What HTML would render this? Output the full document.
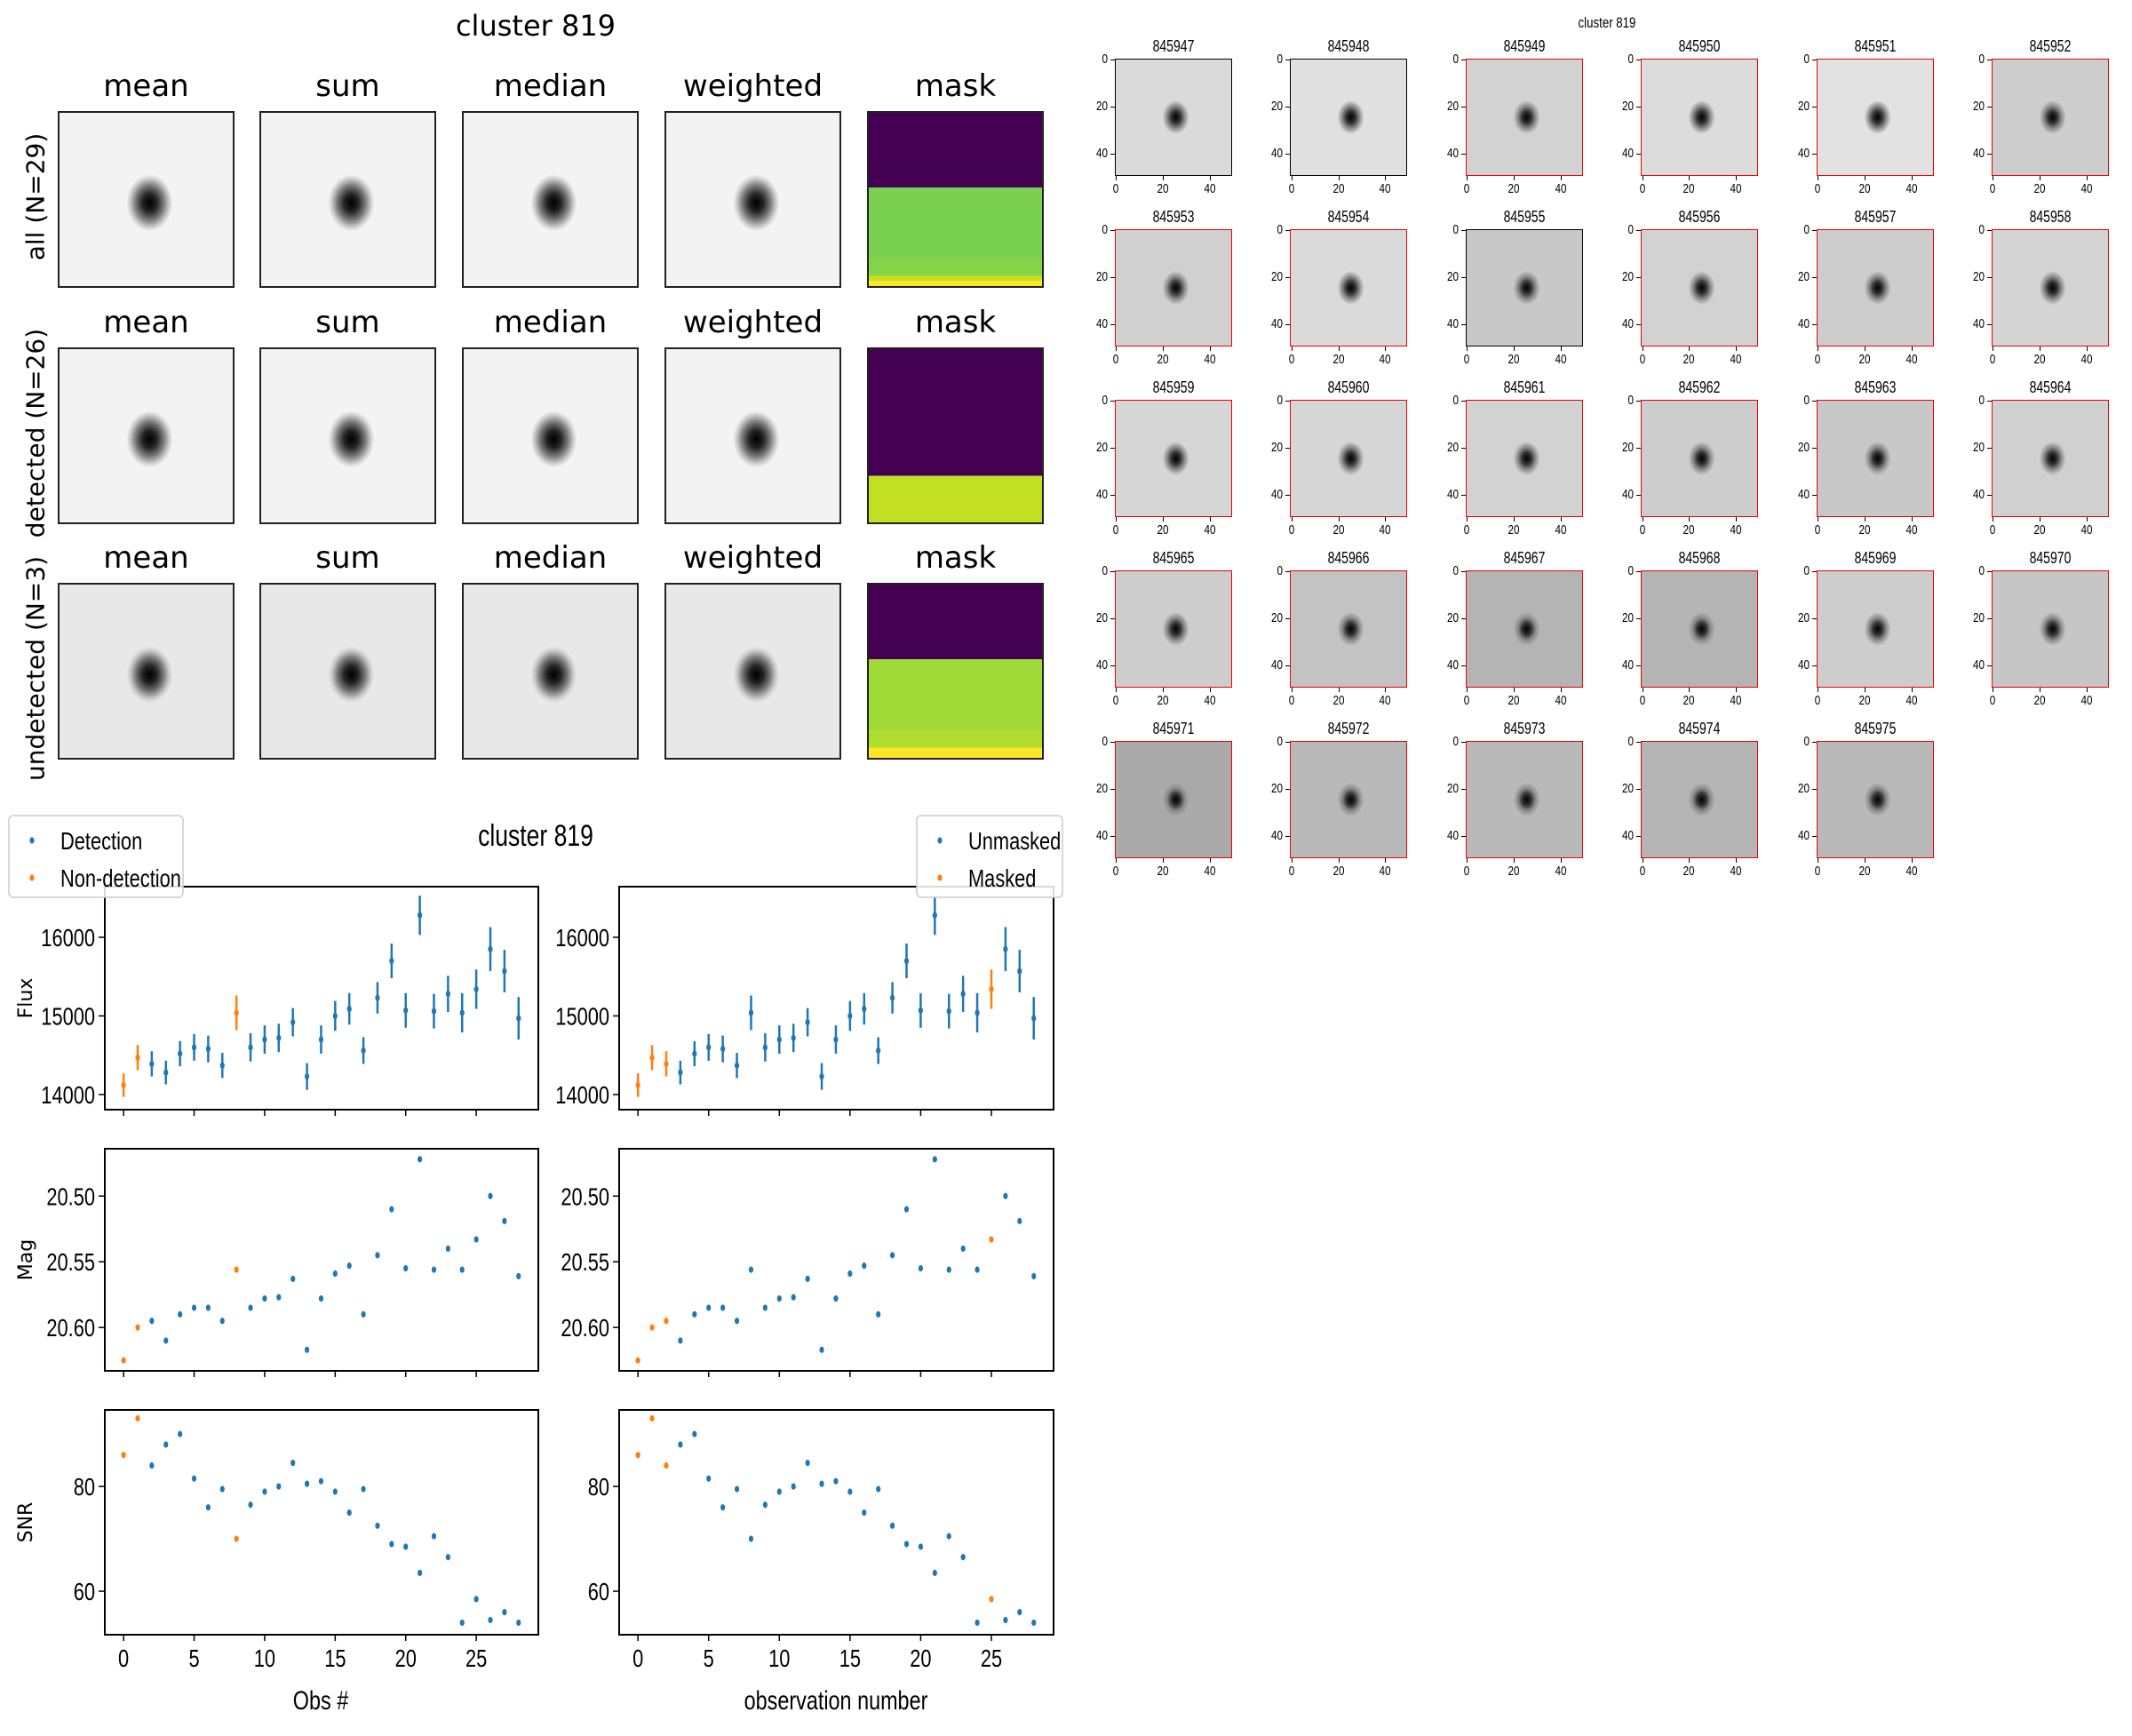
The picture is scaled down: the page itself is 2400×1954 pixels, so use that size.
<!DOCTYPE html>
<html><head><meta charset="utf-8">
<style>
body{margin:0;background:#fff;}
#root{position:relative;width:2400px;height:1954px;overflow:hidden;background:#fff;font-family:"DejaVu Sans","Liberation Sans",sans-serif;}
.abs{position:absolute;}
.t{position:absolute;white-space:nowrap;color:#000;}
.ptitle{font-size:34px;text-align:center;width:200px;}
.img{position:absolute;border:2px solid #222;box-sizing:border-box;}
.narrow{font-family:"Liberation Sans",sans-serif;transform:scaleX(0.78);}
</style></head><body>
<div id="root">
<div class="t" style="left:503px;top:10px;width:200px;text-align:center;font-size:32px;">cluster 819</div>
<div id="stacks"></div>
<div class="t narrow" style="left:1709px;top:16px;width:200px;text-align:center;font-size:17px;">cluster 819</div>
<div id="thumbs"></div>
<svg id="lc" class="abs" style="left:0;top:0" width="2400" height="1954"></svg>
</div>
<script>
// ---------- light curve data ----------
const obs = [0,1,2,3,4,5,6,7,8,9,10,11,12,13,14,15,16,17,18,19,20,21,22,23,24,25,26,27,28];
const flux = [14120,14470,14390,14280,14520,14600,14580,14370,15040,14600,14700,14720,14920,14230,14700,15000,15090,14560,15230,15700,15070,16280,15060,15280,15040,15340,15850,15570,14970];
const fluxErr = [150,160,160,150,160,170,170,160,220,180,180,180,180,170,180,190,200,170,200,220,220,250,220,230,250,250,280,270,270];
const mag = [20.625,20.600,20.595,20.610,20.590,20.585,20.585,20.595,20.556,20.585,20.578,20.577,20.563,20.617,20.578,20.559,20.553,20.590,20.545,20.510,20.555,20.472,20.556,20.540,20.556,20.533,20.500,20.519,20.561];
const snr = [86,93,84,88,90,81.5,76,79.5,70,76.5,79,80,84.5,80.5,81,79,75,79.5,72.5,69,68.5,63.5,70.5,66.5,54,58.5,54.5,56,54];
const nonDetected = [0,1,8];
const maskedObs = [0,1,2,25];
const xTicks = [0,5,10,15,20,25];
const fluxTicks = [14000,15000,16000];
const magTicks = [20.50,20.55,20.60];
const snrTicks = [60,80];

const NS='http://www.w3.org/2000/svg';
const svg=document.getElementById('lc');
function mk(tag,attrs,parent){const e=document.createElementNS(NS,tag);for(const k in attrs)e.setAttribute(k,attrs[k]);(parent||svg).appendChild(e);return e;}
function ntext(s,x,y,size,anchor,parent){const t=mk('text',{x:0,y:0,transform:`translate(${x},${y}) scale(0.78,1)`,'font-size':size,'text-anchor':anchor,'font-family':'Liberation Sans, sans-serif'},parent);t.textContent=s;return t;}
const BLUE='#1f77b4',ORANGE='#ff7f0e';
function lin(d0,d1,r0,r1){return v=>r0+(v-d0)*(r1-r0)/(d1-d0);}
const cols=[{x0:118,x1:606,orange:nonDetected,name:'detection'},{x0:697,x1:1186,orange:maskedObs,name:'mask'}];
const rows=[{y0:998,y1:1249,d0:16644,d1:13808,vals:flux,err:fluxErr,ticks:fluxTicks,fmt:v=>String(v),lab:'Flux',name:'flux'},
 {y0:1293,y1:1543,d0:20.464,d1:20.633,vals:mag,err:null,ticks:magTicks,fmt:v=>v.toFixed(2),lab:'Mag',name:'mag'},
 {y0:1587,y1:1840,d0:94.6,d1:51.7,vals:snr,err:null,ticks:snrTicks,fmt:v=>String(v),lab:'SNR',name:'snr'}];
cols.forEach((c,ci)=>{
 const x=lin(-1.33,29.4,c.x0,c.x1);
 rows.forEach((r,ri)=>{
  const y=lin(r.d0,r.d1,r.y0,r.y1);
  const g=mk('g',{});
  
  
  mk('rect',{x:c.x0,y:r.y0,width:c.x1-c.x0,height:r.y1-r.y0,fill:'none',stroke:'#000','stroke-width':2},g);
  xTicks.forEach(t=>{
   mk('line',{x1:x(t),x2:x(t),y1:r.y1,y2:r.y1+7,stroke:'#000','stroke-width':1.5},g);
   if(ri===2){ntext(String(t),x(t),r.y1+36,28,'middle',g);}
  });
  r.ticks.forEach(t=>{
   mk('line',{x1:c.x0-7,x2:c.x0,y1:y(t),y2:y(t),stroke:'#000','stroke-width':1.5},g);
   ntext(r.fmt(t),c.x0-11,y(t)+10,28,'end',g);
  });
  obs.forEach((o,i)=>{
   const col=c.orange.includes(o)?ORANGE:BLUE;
   if(r.err){const e=mk('line',{x1:x(o),x2:x(o),y1:y(r.vals[i]-r.err[i]),y2:y(r.vals[i]+r.err[i]),stroke:col,'stroke-width':2.5},g);
    }
   const p=mk('ellipse',{cx:x(o),cy:y(r.vals[i]),rx:2.6,ry:3.6,fill:col},g);
   
   
  });
  if(ci===0){const yl=mk('text',{x:0,y:0,transform:`translate(36,${(r.y0+r.y1)/2}) rotate(-90)`,'text-anchor':'middle','font-size':22},g);yl.textContent=r.lab;}
 });
});
function txt(s,x,y,size,anchor,name){const t=ntext(s,x,y,size,anchor);return t;}
txt('cluster 819',603,952,34,'middle','lightcurve-title');
txt('Obs #',361,1924,30,'middle','x-axis-title-left');
txt('observation number',941,1924,30,'middle','x-axis-title-right');
function legend(x,y,w,items,name){const g=mk('g',{});
 mk('rect',{x:x,y:y,width:w,height:92,rx:5,fill:'#fff','fill-opacity':0.85,stroke:'#ccc','stroke-width':1.5},g);
 items.forEach((it,i)=>{mk('ellipse',{cx:x+26,cy:y+28+i*42,rx:2.6,ry:3.6,fill:it[1]},g);
  ntext(it[0],x+58,y+38+i*42,28,'start',g);});}
legend(10,918,196,[['Detection',BLUE],['Non-detection',ORANGE]],'legend-detection');
legend(1032,918,164,[['Unmasked',BLUE],['Masked',ORANGE]],'legend-mask');

// ---------- stacked images ----------
const stackRows=['all (N=29)','detected (N=26)','undetected (N=3)'];
const stackCols=['mean','sum','median','weighted','mask'];
const stackRowNames=['all','detected','undetected'];
const colX=[65,292,520,748,976];const rowY=[125,391,656];const W=199,H=199;
const st=document.getElementById('stacks');
const masks=[
 'linear-gradient(#440154 0 43%,#7ad151 43% 84%,#86d549 84% 94%,#c8e020 94% 97%,#fde725 97%)',
 'linear-gradient(#440154 0 73%,#c2df23 73%)',
 'linear-gradient(#440154 0 43%,#a0da39 43% 84%,#b0dd2f 84% 94%,#fde725 94%)'];
stackRows.forEach((rl,ri)=>{
 const l=document.createElement('div');l.className='t';
 
 
 l.style.cssText=`left:${40-200}px;top:${rowY[ri]+H/2-20}px;width:400px;text-align:center;font-size:28px;transform:rotate(-90deg);`;
 l.textContent=rl;st.appendChild(l);
 stackCols.forEach((cl,ci)=>{
  const t=document.createElement('div');t.className='t ptitle';
  
  
  t.style.left=(colX[ci]+W/2-100)+'px';t.style.top=(rowY[ri]-48)+'px';t.textContent=cl;st.appendChild(t);
  const d=document.createElement('div');d.className='img';
  
  
  d.style.cssText+=`left:${colX[ci]}px;top:${rowY[ri]}px;width:${W}px;height:${H}px;`;
  const bg=ri===2?'#e8e8e8':'#f3f3f3';
  d.style.background=ci===4?masks[ri]:`radial-gradient(ellipse 26px 32px at 52% 52%,#000 0%,#222 30%,#777 60%,#ccc 85%,${bg} 100%),${bg}`;
  st.appendChild(d);
 });
});

// ---------- cutout thumbnails ----------
const ids=[845947,845948,845949,845950,845951,845952,845953,845954,845955,845956,845957,845958,845959,845960,845961,845962,845963,845964,845965,845966,845967,845968,845969,845970,845971,845972,845973,845974,845975];
const blackBorder=[845947,845948,845955];
const bgLevel=[218,224,210,220,226,205,208,218,200,210,205,212,214,214,210,205,200,208,205,195,180,180,205,198,170,185,185,180,185];
const th=document.getElementById('thumbs');
ids.forEach((id,i)=>{
 const c=i%6,r=Math.floor(i/6);const x=1255+c*197.4,y=66+r*192,S=132;
 const t=document.createElement('div');t.className='t narrow';
 
 
 t.style.cssText=`left:${x}px;top:${y-24}px;width:${S}px;text-align:center;font-size:18px;`;t.textContent=id;th.appendChild(t);
 const d=document.createElement('div');
 
 
 const b=bgLevel[i];const bgc=`rgb(${b},${b},${b})`;
 d.style.cssText=`position:absolute;left:${x}px;top:${y}px;width:${S}px;height:${S}px;box-sizing:border-box;border:1.5px solid ${blackBorder.includes(id)?'#000':'#e00'};background:radial-gradient(ellipse 15px 19px at 52% 50%,#000 0%,#333 35%,#888 65%,${bgc} 100%),${bgc};`;
 th.appendChild(d);
 [0,20,40].forEach(v=>{const p=v/50*S+S/100;
  const yl=document.createElement('div');yl.className='t narrow';yl.style.cssText=`left:${x-30}px;top:${y+p-9}px;width:22px;text-align:right;font-size:15px;transform-origin:100% 50%;`;yl.textContent=v;
  
  
  th.appendChild(yl);
  const tk=document.createElement('div');tk.style.cssText=`position:absolute;left:${x-5}px;top:${y+p}px;width:5px;height:1px;background:#000;`;th.appendChild(tk);
  const xl=document.createElement('div');xl.className='t narrow';xl.style.cssText=`left:${x+p-15}px;top:${y+S+6}px;width:30px;text-align:center;font-size:15px;`;xl.textContent=v;
  
  
  th.appendChild(xl);
  const tk2=document.createElement('div');tk2.style.cssText=`position:absolute;left:${x+p}px;top:${y+S}px;width:1px;height:5px;background:#000;`;th.appendChild(tk2);
 });
});
</script>
</body></html>
